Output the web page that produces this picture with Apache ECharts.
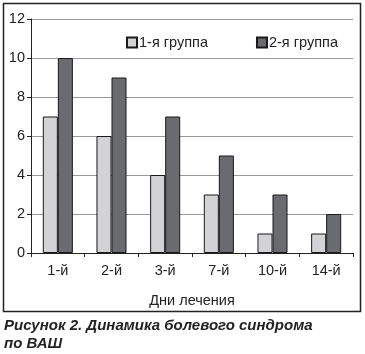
<!DOCTYPE html>
<html>
<head>
<meta charset="utf-8">
<script src="https://cdn.jsdelivr.net/npm/echarts@6/dist/echarts.min.js"></script>
<style>
html,body{margin:0;padding:0;background:#fff;}
#chart{width:365px;height:354px;}
</style>
</head>
<body>
<div id="chart"></div>
<script>
var days = ['1-й', '2-й', '3-й', '7-й', '10-й', '14-й'];
var group1 = [7, 6, 4, 3, 1, 1];
var group2 = [10, 9, 7, 5, 3, 2];
var seriesNames = ['1-я группа', '2-я группа'];

var myChart = echarts.init(document.getElementById('chart'));
var font = 'Liberation Sans, Arial, sans-serif';
var option = {
    animation: false,
    textStyle: { fontFamily: font },
    grid: { left: 31, right: 12, top: 19, bottom: 101 },
    legend: {
        data: seriesNames,
        top: 30,
        left: 121,
        itemGap: 48,
        itemWidth: 10,
        itemHeight: 10,
        icon: 'rect',
        textStyle: { fontSize: 14.5, color: '#222', fontFamily: font, padding: [0, 0, 0, -3] }
    },
    xAxis: {
        type: 'category',
        data: days,
        name: 'Дни лечения',
        nameLocation: 'middle',
        nameGap: 40,
        nameTextStyle: { fontSize: 14.5, color: '#222' },
        axisLine: { lineStyle: { color: '#222', width: 1 } },
        axisTick: { show: true, length: 4, lineStyle: { color: '#222' } },
        axisLabel: { fontSize: 14.5, color: '#222', margin: 10 }
    },
    yAxis: {
        type: 'value',
        min: 0,
        max: 12,
        interval: 2,
        axisLine: { show: true, lineStyle: { color: '#222', width: 1 } },
        axisTick: { show: true, length: 4, lineStyle: { color: '#222' } },
        axisLabel: { fontSize: 14.5, color: '#222', margin: 6 },
        splitLine: { lineStyle: { color: '#999', width: 1 } }
    },
    series: [{
        name: seriesNames[0],
        type: 'bar',
        data: group1,
        barGap: '0%',
        barCategoryGap: '44%',
        itemStyle: { color: '#d3d3d5', borderColor: '#1a1a1a', borderWidth: 1 }
    }, {
        name: seriesNames[1],
        type: 'bar',
        data: group2,
        itemStyle: { color: '#6a6b6f', borderColor: '#1a1a1a', borderWidth: 1 }
    }],
    graphic: [{
        type: 'rect',
        shape: { x: 3.5, y: 3.5, width: 357, height: 308 },
        style: { fill: 'none', stroke: '#222', lineWidth: 1.5 },
        silent: true
    }, {
        type: 'text',
        left: 4,
        top: 317,
        style: {
            text: 'Рисунок 2. Динамика болевого синдрома\nпо ВАШ',
            font: 'italic bold 15px ' + font,
            fill: '#222',
            lineHeight: 18
        }
    }]
};
myChart.setOption(option);
window.onresize = function(){
    myChart.resize();
};
</script>
</body>
</html>
